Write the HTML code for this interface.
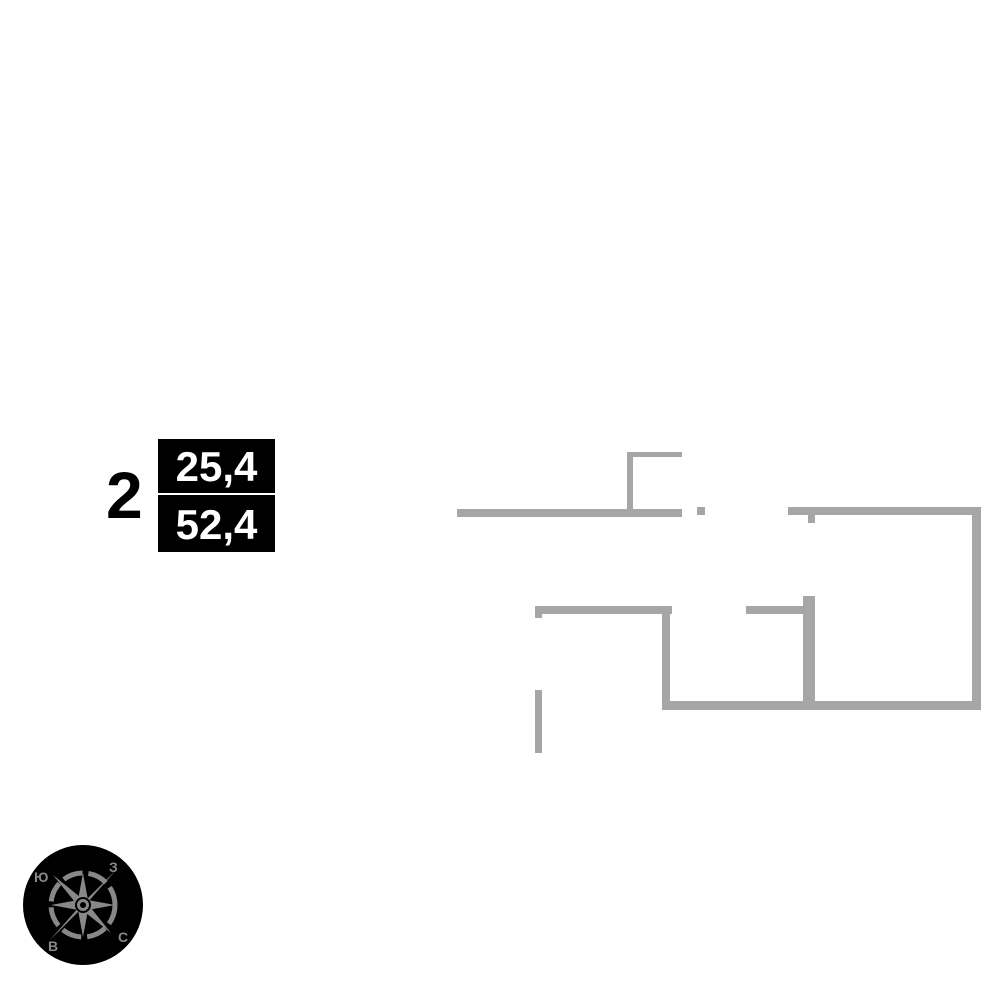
<!DOCTYPE html>
<html><head><meta charset="utf-8"><style>
body{margin:0;width:1000px;height:1000px;background:#fff;position:relative;overflow:hidden;font-family:"Liberation Sans",sans-serif}
.w{position:absolute;background:#a6a6a6}
.box{position:absolute;left:158px;width:117px;background:#000;color:#fff;font-size:42px;font-weight:bold;line-height:1;text-align:center}
</style></head><body>
<div style="position:absolute;left:106px;top:462px;font-size:66px;font-weight:bold;line-height:1">2</div>
<div class="box" style="top:439px;height:54px;"><div style="padding-top:7px">25,4</div></div>
<div class="box" style="top:495px;height:57px;"><div style="padding-top:9px">52,4</div></div>

<div class="w" style="left:457px;top:509px;width:225px;height:8px"></div>
<div class="w" style="left:627px;top:452px;width:6px;height:60px"></div>
<div class="w" style="left:627px;top:452px;width:55px;height:5px"></div>
<div class="w" style="left:697px;top:507px;width:8px;height:8px"></div>
<div class="w" style="left:788px;top:507px;width:192px;height:8px"></div>
<div class="w" style="left:972px;top:507px;width:9px;height:203px"></div>
<div class="w" style="left:808px;top:515px;width:7px;height:8px"></div>
<div class="w" style="left:662px;top:701px;width:319px;height:9px"></div>
<div class="w" style="left:803px;top:596px;width:12px;height:112px"></div>
<div class="w" style="left:535px;top:606px;width:137px;height:8px"></div>
<div class="w" style="left:662px;top:606px;width:8px;height:102px"></div>
<div class="w" style="left:746px;top:606px;width:64px;height:8px"></div>
<div class="w" style="left:535px;top:606px;width:7px;height:12px"></div>
<div class="w" style="left:535px;top:690px;width:7px;height:63px"></div>

<svg style="position:absolute;left:23px;top:845px" width="120" height="120" viewBox="0 0 120 120">
<circle cx="60" cy="60" r="60" fill="#000"/>
<circle cx="60" cy="60" r="32" fill="none" stroke="#888" stroke-width="5" stroke-dasharray="20 6"/>
<g fill="#888">
<polygon points="60,28 65,55 92,60 65,65 60,92 55,65 28,60 55,55"/>
<polygon points="30,30 62,56 94,24 64,58 88,88 58,64 26,96 56,62"/>
</g>
<circle cx="60" cy="60" r="7" fill="#888" stroke="#000" stroke-width="2"/>
<circle cx="60" cy="60" r="3" fill="#000"/>
<g fill="#888" font-family="Liberation Sans,DejaVu Sans,sans-serif" font-weight="bold" font-size="14">
<text x="11" y="37">Ю</text><text x="86" y="27">З</text><text x="25" y="106">В</text><text x="95" y="97">С</text>
</g>
</svg>
</body></html>
